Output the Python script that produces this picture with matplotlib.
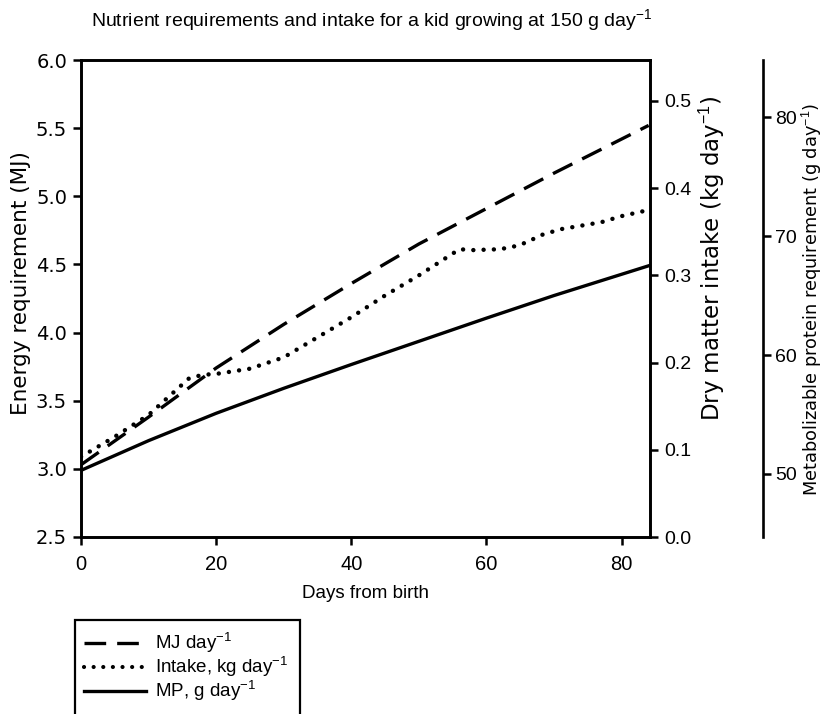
import matplotlib
matplotlib.use("Agg")
import matplotlib.pyplot as plt
from matplotlib.patches import Rectangle
from matplotlib.lines import Line2D

plt.rcParams['font.family'] = ['Liberation Sans', 'DejaVu Sans']
plt.rcParams['mathtext.fontset'] = 'custom'
plt.rcParams['mathtext.rm'] = 'Liberation Sans'
plt.rcParams['mathtext.it'] = 'Liberation Sans:italic'
plt.rcParams['mathtext.bf'] = 'Liberation Sans:bold'
WIDE = ['DejaVu Sans']

# ---- data ----
mj_days = [0, 10, 20, 30, 40, 50, 60, 70, 84]
mj_values = [3.03, 3.38, 3.74, 4.06, 4.36, 4.65, 4.91, 5.17, 5.52]

intake_days = [0, 5, 10, 14, 16, 18, 20, 25, 30, 35, 40, 45, 50, 53, 56, 58,
               62, 64, 66, 68, 71, 74, 77, 80, 84]
intake_values = [0.092, 0.115, 0.140, 0.168, 0.182, 0.186, 0.187, 0.193, 0.206,
                 0.229, 0.252, 0.277, 0.300, 0.315, 0.330, 0.329, 0.330, 0.333,
                 0.338, 0.346, 0.353, 0.357, 0.361, 0.368, 0.375]

mp_days = [0, 10, 20, 30, 40, 50, 60, 70, 84]
mp_values = [50.3, 52.8, 55.1, 57.2, 59.2, 61.15, 63.1, 65.0, 67.5]

x_ticks = [0, 20, 40, 60, 80]
energy_ticks = [2.5, 3.0, 3.5, 4.0, 4.5, 5.0, 5.5, 6.0]
dm_ticks = [0.0, 0.1, 0.2, 0.3, 0.4, 0.5]
mp_ticks = [50, 60, 70, 80]

title = "Nutrient requirements and intake for a kid growing at 150 g day$^{-1}$"
legend_labels = ["MJ day$^{-1}$", "Intake, kg day$^{-1}$", "MP, g day$^{-1}$"]

# ---- figure ----
W, H = 825, 714
fig = plt.figure(figsize=(W / 100, H / 100), dpi=100)
left, right, top, bottom = 81, 650, 60, 537
ax = fig.add_axes([left / W, 1 - bottom / H, (right - left) / W, (bottom - top) / H])
ax2 = ax.twinx()
ax3 = ax.twinx()
ax3.spines['right'].set_position(('axes', (763 - left) / (right - left)))

spine_lw = 1.9
for a in (ax, ax2, ax3):
    for s in a.spines.values():
        s.set_linewidth(spine_lw)
    a.tick_params(direction='out', length=6, width=1.8, labelsize=14, pad=4)
ax.tick_params(axis='x', pad=7)
ax3.tick_params(pad=2.5)
ax3.spines['top'].set_visible(False)
ax3.spines['left'].set_visible(False)
ax3.spines['bottom'].set_visible(False)

lw_line = 2.4
l1, = ax.plot(mj_days, mj_values, color='black', lw=lw_line,
              linestyle=(0, (6.5, 3.3)), dash_capstyle='butt')
l2, = ax2.plot(intake_days, intake_values, color='black', lw=3.2,
               linestyle=(0, (0.01, 2.3)), dash_capstyle='round')
l3, = ax3.plot(mp_days, mp_values, color='black', lw=lw_line)

ax.set_xlim(0, 84.2)
ax.set_ylim(2.5, 6.0)
ax2.set_ylim(0, 0.547)
ax3.set_ylim(44.7, 84.8)

ax.set_xticks(x_ticks)
ax.set_xticklabels([str(v) for v in x_ticks], fontsize=14.5)
ax.set_yticks(energy_ticks)
ax.set_yticklabels([f"{v:.1f}" for v in energy_ticks], family=WIDE, fontsize=14)
ax2.set_yticks(dm_ticks)
ax2.set_yticklabels([f"{v:.1f}" for v in dm_ticks])
ax3.set_yticks(mp_ticks)
ax3.set_yticklabels([str(v) for v in mp_ticks])

ax.set_xlabel("Days from birth", fontsize=13.5, labelpad=8)
ax.set_ylabel("Energy requirement (MJ)", family=WIDE, fontsize=15.5)
ax2.set_ylabel("Dry matter intake (kg day$^{-1}$)", family=WIDE, fontsize=16.5)
ax3.set_ylabel("Metabolizable protein requirement (g day$^{-1}$)", family=WIDE, fontsize=12.8)
ax.yaxis.set_label_coords((31 - left) / (right - left), (bottom - 283) / (bottom - top))
ax2.yaxis.set_label_coords((697 - left) / (right - left), (bottom - 258) / (bottom - top))
ax3.yaxis.set_label_coords((800 - left) / (right - left), (bottom - 300) / (bottom - top))

fig.text(372 / W, 1 - 20 / H, title, fontsize=14, ha='center', va='center')

# legend with frame extending past bottom of figure
fig.patches.append(Rectangle((75 / W, 1 - 730 / H), (300 - 75) / W, (730 - 620) / H,
                             transform=fig.transFigure, fill=False,
                             edgecolor='black', linewidth=1.6, clip_on=False))
handles = [Line2D([], [], color='black', lw=lw_line, linestyle=(0, (6.5, 3.3))),
           Line2D([], [], color='black', lw=3.0, linestyle=(0, (0.01, 2.3)),
                  dash_capstyle='round'),
           Line2D([], [], color='black', lw=lw_line)]
leg = fig.legend(handles, legend_labels, loc='upper left',
                 bbox_to_anchor=(84 / W, 1 - 631 / H), frameon=False,
                 prop={'size': 13.5}, handlelength=3.3,
                 handletextpad=0.5, labelspacing=0.0, borderpad=0.0,
                 borderaxespad=0.0)

fig.savefig("out.png", dpi=100)
